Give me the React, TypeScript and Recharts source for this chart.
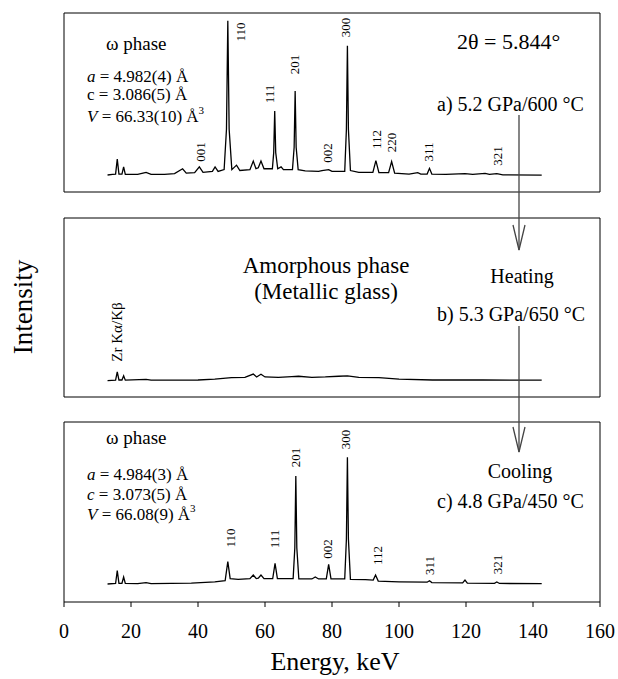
import React from "react";
import { ComposedChart, Line, Scatter, XAxis, YAxis, ReferenceArea } from "recharts";

const FONT = "Liberation Serif, Times New Roman, serif";

const energyTicks = [0, 20, 40, 60, 80, 100, 120, 140, 160];

// [energy keV, intensity as % of panel height]
const spectrumA = [
  [13.0, 9.5], [14.5, 9.8], [15.4, 10], [15.9, 18.4], [16.4, 10], [17.3, 10], [17.8, 14], [18.3, 9.8],
  [22, 9.8], [24.5, 11], [26, 9.8], [30, 9.9], [33, 10.3], [35.4, 13], [36.5, 10.5], [39, 10.8],
  [40.4, 14], [41.5, 11], [44.3, 11.5], [45.1, 14], [46, 11.5], [47.8, 12.5], [48.5, 35], [48.9, 95.7],
  [49.3, 35], [50.1, 12.5], [51.5, 15], [52.5, 12], [55.5, 12.5], [56.5, 17.3], [57.3, 13], [58.0, 13.5],
  [58.8, 17.3], [59.7, 13], [62.2, 13], [62.6, 22], [62.9, 45.3], [63.2, 22], [63.8, 13], [64.8, 14],
  [65.5, 12.5], [68.2, 12.5], [68.7, 25], [69.0, 56.4], [69.3, 25], [69.9, 12.5], [72, 11.8], [76, 11.5],
  [77, 12], [79, 12.5], [80, 11.5], [83.8, 11.5], [84.3, 35], [84.6, 81.7], [84.9, 35], [85.5, 12],
  [88, 11], [92.2, 11], [93.1, 17.5], [94, 10.8], [96.9, 10.8], [97.8, 17], [98.7, 10.5], [103, 10],
  [105.6, 10.8], [106.5, 10], [108.4, 10], [109.1, 13.2], [109.8, 10], [114, 9.8], [119.7, 10.3],
  [122, 9.8], [125.7, 10.4], [127, 9.8], [129.2, 10.3], [131, 9.6], [142.6, 9.4],
];

const spectrumB = [
  [13.0, 9.2], [15.4, 9.4], [15.9, 14], [16.4, 9.5], [17.3, 9.5], [17.8, 11.8], [18.3, 9.4],
  [24.5, 9.9], [26, 9.4], [40, 9.5], [45, 10], [50, 10.8], [54, 11], [56.5, 12.8], [57.5, 11.2],
  [58.8, 12.7], [60, 11.2], [64, 11], [68, 11.4], [70, 11.6], [74, 11], [78, 11.2], [82, 11.6],
  [84.6, 11.8], [88, 11], [94, 10.8], [100, 10], [110, 9.5], [125, 9.5], [142.6, 9.4],
];

const spectrumC = [
  [13.0, 10], [15.4, 10.3], [15.9, 17.4], [16.4, 10.4], [17.3, 10.4], [17.8, 13.9], [18.3, 10.3],
  [22, 10.2], [24.5, 10.8], [26, 10.2], [38, 10.5], [45, 11.2], [48.1, 11.8], [48.9, 22.4], [49.6, 13],
  [52, 12.6], [55.5, 13], [56.5, 15], [57.4, 13], [58, 13.2], [58.8, 15], [59.7, 13], [62.3, 13],
  [63.0, 21.5], [63.7, 13], [68.4, 13], [68.9, 30], [69.2, 70], [69.5, 30], [70.1, 12.8], [74, 12.8],
  [75, 13.9], [76, 12.8], [78.3, 12.8], [79.0, 20.9], [79.7, 12.8], [83.8, 12.8], [84.3, 35],
  [84.6, 80.4], [84.9, 35], [85.5, 12.6], [90, 12.4], [92.3, 12.2], [93.0, 15], [93.8, 11.6],
  [100, 11.2], [108.4, 11], [109.1, 11.8], [109.8, 10.8], [119, 10.6], [119.7, 12.2], [120.4, 10.5],
  [128.5, 10.4], [129.2, 11.1], [130, 10.3], [142.6, 10.2],
];

// reflection labels: text, energy, height (% of panel)
const peaksA = [
  { hkl: "001", x: 40.6, y: 22.3 },
  { hkl: "110", x: 52.8, y: 89.4 },
  { hkl: "111", x: 61.3, y: 54.7 },
  { hkl: "201", x: 68.7, y: 71.2 },
  { hkl: "002", x: 78.8, y: 21.8 },
  { hkl: "300", x: 84.0, y: 91.9 },
  { hkl: "112", x: 93.4, y: 29.3 },
  { hkl: "220", x: 97.9, y: 27.7 },
  { hkl: "311", x: 108.7, y: 22.3 },
  { hkl: "321", x: 129.3, y: 20.1 },
];

const peaksB = [{ hkl: "Zr Kα/Kβ", x: 15.8, y: 36.3 }];

const peaksC = [
  { hkl: "110", x: 49.6, y: 35.6 },
  { hkl: "111", x: 62.8, y: 35 },
  { hkl: "201", x: 69.1, y: 80.3 },
  { hkl: "002", x: 78.8, y: 29.4 },
  { hkl: "300", x: 84.0, y: 90.3 },
  { hkl: "112", x: 93.6, y: 25.8 },
  { hkl: "311", x: 109.1, y: 20.3 },
  { hkl: "321", x: 129.4, y: 20.8 },
];

const toPoints = (s: number[][]) => s.map(([x, y]) => ({ x, y }));

function makeLabel(size: number) {
  return (props: any) => {
    const { cx, cy, payload } = props;
    return (
      <text
        x={cx}
        y={cy}
        transform={`rotate(-90 ${cx} ${cy})`}
        textAnchor="middle"
        dominantBaseline="central"
        fontSize={size}
        fontFamily={FONT}
        fill="#000"
      >
        {payload.hkl}
      </text>
    );
  };
}

function Panel({ spectrum, peaks, top, height, marginTop, axisHeight, showTicks, labelSize }: any) {
  return (
    <div style={{ position: "absolute", left: 0, top }}>
      <ComposedChart width={618} height={height} margin={{ top: marginTop, right: 18, bottom: 0, left: 64 }}>
        <XAxis
          type="number"
          dataKey="x"
          domain={[0, 160]}
          ticks={energyTicks}
          interval={0}
          allowDataOverflow
          height={axisHeight}
          axisLine={false}
          tickLine={{ stroke: "#000" }}
          tickSize={5}
          tickMargin={17}
          tick={showTicks ? { fontSize: 20, fill: "#000", fontFamily: FONT } : false}
        />
        <YAxis type="number" dataKey="y" domain={[0, 100]} hide allowDataOverflow />
        <ReferenceArea x1={0} x2={160} y1={0} y2={100} fill="none" stroke="#000" strokeWidth={1} />
        <Line
          data={toPoints(spectrum)}
          dataKey="y"
          type="linear"
          stroke="#000"
          strokeWidth={1.3}
          dot={false}
          isAnimationActive={false}
        />
        <Scatter data={peaks} dataKey="y" shape={makeLabel(labelSize)} isAnimationActive={false} />
      </ComposedChart>
    </div>
  );
}

function Arrow({ x, y1, y2 }: { x: number; y1: number; y2: number }) {
  return (
    <g stroke="#444" strokeWidth={1.3} fill="none">
      <line x1={x} y1={y1} x2={x} y2={y2} />
      <polyline points={`${x - 6},${y2 - 25} ${x},${y2} ${x + 6},${y2 - 25}`} />
    </g>
  );
}

export default function App() {
  const t = { fontFamily: FONT, fill: "#000" };
  return (
    <div style={{ position: "absolute", left: 0, top: 0, width: 618, height: 679, background: "#fff" }}>
      <Panel spectrum={spectrumA} peaks={peaksA} top={0} height={205} marginTop={13} axisHeight={13} labelSize={13} />
      <Panel spectrum={spectrumB} peaks={peaksB} top={205} height={205} marginTop={13} axisHeight={13} labelSize={15} />
      <Panel spectrum={spectrumC} peaks={peaksC} top={410} height={269} marginTop={12} axisHeight={77} labelSize={13} showTicks />
      <svg width={618} height={679} style={{ position: "absolute", left: 0, top: 0, pointerEvents: "none" }}>
        {/* panel a */}
        <text x={106} y={50} fontSize={19} {...t}>ω phase</text>
        <text x={87} y={82} fontSize={17} {...t}><tspan fontStyle="italic">a</tspan> = 4.982(4) Å</text>
        <text x={87} y={100} fontSize={17} {...t}>c = 3.086(5) Å</text>
        <text x={87} y={122} fontSize={17} {...t}><tspan fontStyle="italic">V</tspan> = 66.33(10) Å<tspan dy={-8} fontSize={11}>3</tspan></text>
        <text x={457} y={49} fontSize={22} {...t}>2θ = 5.844°</text>
        <text x={437} y={111} fontSize={20} {...t}>a) 5.2 GPa/600 °C</text>
        {/* panel b */}
        <text x={326} y={273} fontSize={23} textAnchor="middle" {...t}>Amorphous phase</text>
        <text x={326} y={299} fontSize={23} textAnchor="middle" {...t}>(Metallic glass)</text>
        <text x={522} y={283} fontSize={20} textAnchor="middle" {...t}>Heating</text>
        <text x={511} y={321} fontSize={20} textAnchor="middle" {...t}>b) 5.3 GPa/650 °C</text>
        {/* panel c */}
        <text x={106} y={444} fontSize={19} {...t}>ω phase</text>
        <text x={87} y={480} fontSize={17} {...t}><tspan fontStyle="italic">a</tspan> = 4.984(3) Å</text>
        <text x={87} y={500} fontSize={17} {...t}><tspan fontStyle="italic">c</tspan> = 3.073(5) Å</text>
        <text x={87} y={520} fontSize={17} {...t}><tspan fontStyle="italic">V</tspan> = 66.08(9) Å<tspan dy={-8} fontSize={11}>3</tspan></text>
        <text x={520} y={478} fontSize={20} textAnchor="middle" {...t}>Cooling</text>
        <text x={437} y={508} fontSize={20} {...t}>c) 4.8 GPa/450 °C</text>
        {/* arrows */}
        <Arrow x={519} y1={115} y2={250} />
        <Arrow x={519} y1={326} y2={452} />
        {/* axis titles */}
        <text x={32} y={307} fontSize={27} textAnchor="middle" transform="rotate(-90 32 307)" {...t}>Intensity</text>
        <text x={335} y={670} fontSize={26} textAnchor="middle" {...t}>Energy, keV</text>
      </svg>
    </div>
  );
}
